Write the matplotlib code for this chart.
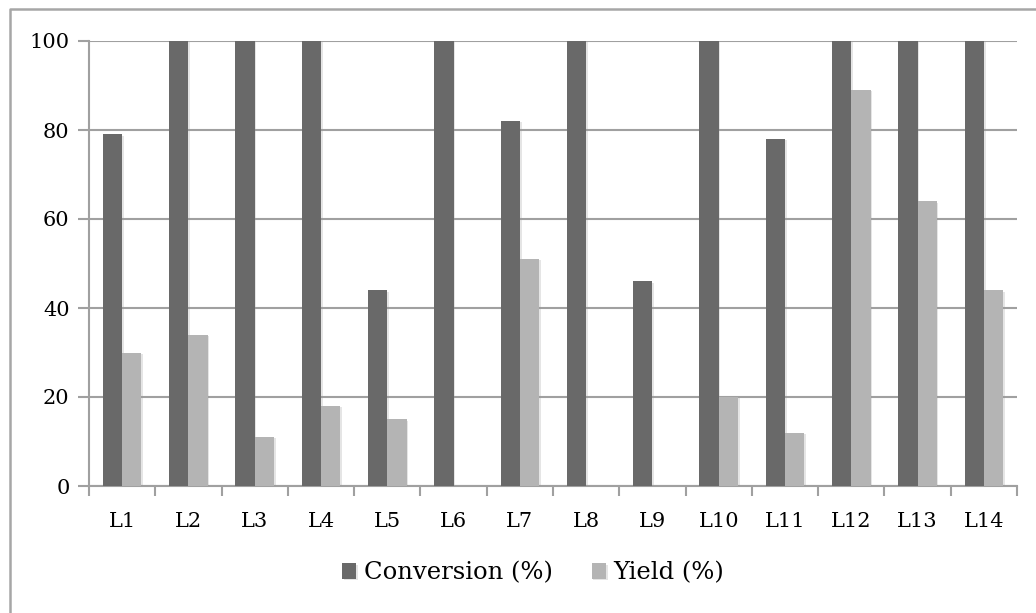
import numpy as np
import matplotlib.pyplot as plt
import matplotlib.patheffects as pe
from matplotlib.lines import Line2D

# ligand screen: conversion and yield per ligand
ligands = ['L1', 'L2', 'L3', 'L4', 'L5', 'L6', 'L7',
           'L8', 'L9', 'L10', 'L11', 'L12', 'L13', 'L14']
conversion = [79, 100, 100, 100, 44, 100, 82, 100, 46, 100, 78, 100, 100, 100]
yield_pct = [30, 34, 11, 18, 15, 0, 51, 0, 0, 20, 12, 89, 64, 44]

plt.rcParams['font.family'] = ['DejaVu Serif']

fig = plt.figure(figsize=(10.36, 6.13), dpi=100)
ax = fig.add_axes([89 / 1036, 1 - 486 / 613, (1017 - 89) / 1036, (486 - 41) / 613])

# grey chart frame (left and top edges)
W, H = 1036, 613
fig.lines.append(Line2D([10 / W, 10 / W, 1], [0, 1 - 9 / H, 1 - 9 / H],
                        transform=fig.transFigure, color='#a6a6a6', lw=1.8))

x = np.arange(len(ligands))
w = 0.29
shadow = [pe.SimplePatchShadow(offset=(1.2, -1.0), shadow_rgbFace='#999999', alpha=0.25),
          pe.Normal()]
b1 = ax.bar(x - w / 2, conversion, w, color='#696969', label='Conversion (%)', zorder=3)
b2 = ax.bar(x + w / 2, yield_pct, w, color='#b4b4b4', label='Yield (%)', zorder=3)
for bar in list(b1) + list(b2):
    if bar.get_height() > 0:
        bar.set_path_effects(shadow)

ax.set_xlim(-0.5, len(ligands) - 0.5)
ax.set_ylim(0, 100)
ax.set_yticks(range(0, 101, 20))
ax.yaxis.grid(True, color='#a0a0a0', lw=1.5, zorder=0)

ax.set_xticks(x)
ax.set_xticklabels(ligands)
ax.set_xticks(np.arange(-0.5, len(ligands)), minor=True)
ax.tick_params(axis='x', which='major', length=0, pad=19, labelsize=15)
ax.tick_params(axis='x', which='minor', length=7, width=1.5, color='#a0a0a0')
ax.tick_params(axis='y', length=8, width=1.5, color='#a0a0a0', labelsize=15, pad=6)

for side in ['top', 'right']:
    ax.spines[side].set_visible(False)
for side in ['left', 'bottom']:
    ax.spines[side].set_color('#a0a0a0')
    ax.spines[side].set_linewidth(1.5)

leg = fig.legend(handles=[b1, b2], loc='center', bbox_to_anchor=(533 / W, 1 - 573 / H),
                 ncol=2, frameon=False, fontsize=17.5, handlelength=0.6, handleheight=0.6,
                 handletextpad=0.3, columnspacing=1.6)

fig.savefig('out.png', dpi=100)
